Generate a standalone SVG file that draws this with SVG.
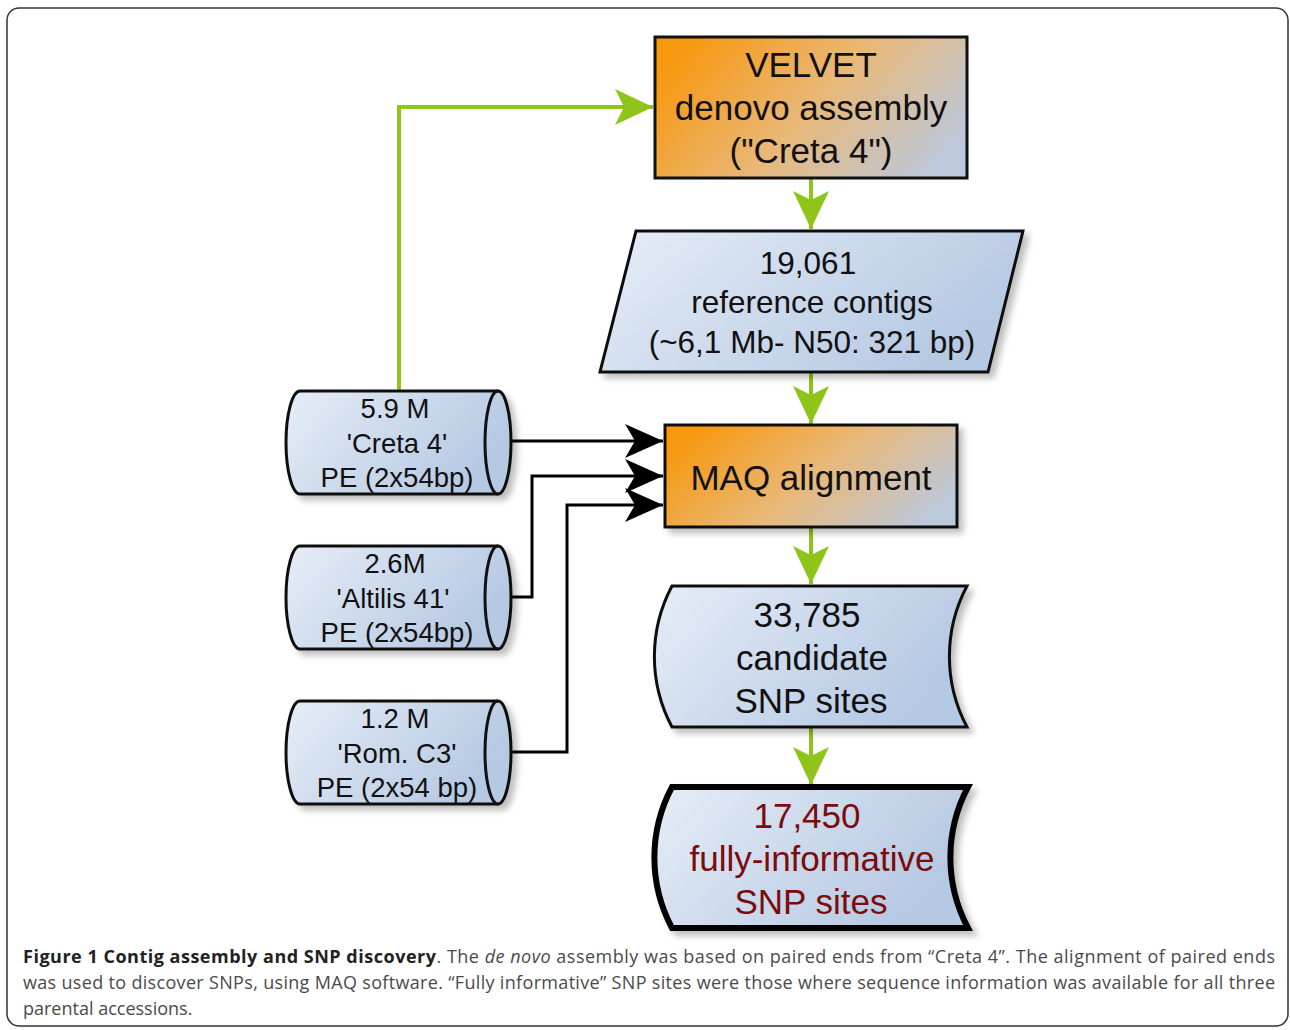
<svg xmlns="http://www.w3.org/2000/svg" width="1290" height="1030" viewBox="0 0 1290 1030">
<defs>
  <linearGradient id="gOrange" x1="0" y1="0.3" x2="1" y2="0.7">
    <stop offset="0" stop-color="#f7980f"/>
    <stop offset="0.5" stop-color="#e9b878"/>
    <stop offset="1" stop-color="#bcc8dc"/>
  </linearGradient>
  <linearGradient id="gBlue" x1="0" y1="0" x2="1" y2="0.4">
    <stop offset="0" stop-color="#e6edf7"/>
    <stop offset="1" stop-color="#b6c9e3"/>
  </linearGradient>
  <filter id="shadow" x="-10%" y="-10%" width="130%" height="130%">
    <feDropShadow dx="5" dy="5" stdDeviation="3" flood-color="#000" flood-opacity="0.25"/>
  </filter>
  <marker id="ahGreen" markerUnits="userSpaceOnUse" markerWidth="40" markerHeight="36" refX="38" refY="18" orient="auto" viewBox="0 0 40 36">
    <path d="M0,0 L38,18 L0,36 L9,18 Z" fill="#8fc41a"/>
  </marker>
  <marker id="ahBlack" markerUnits="userSpaceOnUse" markerWidth="40" markerHeight="34" refX="38" refY="17" orient="auto" viewBox="0 0 40 34">
    <path d="M0,0 L38,17 L0,34 L10,17 Z" fill="#000"/>
  </marker>
</defs>
<style>
  .node { stroke:#111; stroke-width:3; }
  .lbl { font-family:"Liberation Sans", Arial, sans-serif; fill:#111; text-anchor:middle; }
  .big { font-size:35px; }
  .mid { font-size:31.5px; }
  .sm { font-size:27.5px; }
  .green { fill:none; stroke:#8fc41a; stroke-width:4; }
  .black { fill:none; stroke:#000; stroke-width:3; }
  .cap { font-family:"Open Sans", "Liberation Sans", sans-serif; font-size:18px; fill:#4a4a4a; }
</style>
<rect x="7" y="8" width="1281" height="1018" rx="12" fill="#fff" stroke="#333" stroke-width="1.5"/>

<g id="connectors">
  <path class="green" d="M399,391 L399,107 L653,107" marker-end="url(#ahGreen)"/>
  <path class="green" d="M811,178 L811,229" marker-end="url(#ahGreen)"/>
  <path class="green" d="M811,372 L811,424" marker-end="url(#ahGreen)"/>
  <path class="green" d="M811,527 L811,584" marker-end="url(#ahGreen)"/>
  <path class="green" d="M811,727 L811,785" marker-end="url(#ahGreen)"/>
  <path class="black" d="M511,441 L663,441" marker-end="url(#ahBlack)"/>
  <path class="black" d="M511,597 L532,597 L532,476 L663,476" marker-end="url(#ahBlack)"/>
  <path class="black" d="M511,752 L567,752 L567,505 L663,505" marker-end="url(#ahBlack)"/>
</g>

<g id="velvet">
  <rect class="node" x="655" y="37" width="312" height="141" fill="url(#gOrange)"/>
  <text class="lbl big" x="811" y="77">VELVET</text>
  <text class="lbl big" x="811" y="120">denovo assembly</text>
  <text class="lbl big" x="811" y="163">("Creta 4")</text>
</g>

<g id="contigs">
  <path class="node" d="M636,231 L1023,231 L988,372 L600,372 Z" fill="url(#gBlue)" filter="url(#shadow)"/>
  <text class="lbl mid" x="808" y="274">19,061</text>
  <text class="lbl mid" x="812" y="313">reference contigs</text>
  <text class="lbl mid" x="812" y="353">(~6,1 Mb- N50: 321 bp)</text>
</g>

<g id="maq">
  <rect class="node" x="665" y="425" width="292" height="102" fill="url(#gOrange)" filter="url(#shadow)"/>
  <text class="lbl big" x="811" y="490">MAQ alignment</text>
</g>

<g id="candidate">
  <path class="node" d="M672,586 L967,586 A150,150 0 0 0 967,727 L672,727 A150,150 0 0 1 672,586 Z" fill="url(#gBlue)" filter="url(#shadow)"/>
  <text class="lbl big" x="807" y="627">33,785</text>
  <text class="lbl big" x="812" y="670">candidate</text>
  <text class="lbl big" x="811" y="713">SNP sites</text>
</g>

<g id="final">
  <path d="M672,787 L968,787 A150,150 0 0 0 968,928 L672,928 A150,150 0 0 1 672,787 Z" fill="url(#gBlue)" stroke="#000" stroke-width="6" filter="url(#shadow)"/>
  <text class="lbl big" x="807" y="828" style="fill:#7a0c0c">17,450</text>
  <text class="lbl big" x="812" y="871" style="fill:#7a0c0c">fully-informative</text>
  <text class="lbl big" x="811" y="914" style="fill:#7a0c0c">SNP sites</text>
</g>

<g id="creta4">
  <path class="node" d="M300,391 L498,391 A13,51.5 0 0 1 498,494 L300,494 A14,51.5 0 0 1 300,391 Z" fill="url(#gBlue)" filter="url(#shadow)"/>
  <path class="node" d="M498,391 A13,51.5 0 0 0 498,494" fill="none"/>
  <text class="lbl sm" x="395" y="418">5.9 M</text>
  <text class="lbl sm" x="397" y="453">'Creta 4'</text>
  <text class="lbl sm" x="397" y="487">PE (2x54bp)</text>
</g>

<g id="altilis">
  <path class="node" d="M300,546 L498,546 A13,51.5 0 0 1 498,649 L300,649 A14,51.5 0 0 1 300,546 Z" fill="url(#gBlue)" filter="url(#shadow)"/>
  <path class="node" d="M498,546 A13,51.5 0 0 0 498,649" fill="none"/>
  <text class="lbl sm" x="395" y="573">2.6M</text>
  <text class="lbl sm" x="393" y="608">'Altilis 41'</text>
  <text class="lbl sm" x="397" y="642">PE (2x54bp)</text>
</g>

<g id="romc3">
  <path class="node" d="M300,701 L498,701 A13,51.5 0 0 1 498,804 L300,804 A14,51.5 0 0 1 300,701 Z" fill="url(#gBlue)" filter="url(#shadow)"/>
  <path class="node" d="M498,701 A13,51.5 0 0 0 498,804" fill="none"/>
  <text class="lbl sm" x="395" y="728">1.2 M</text>
  <text class="lbl sm" x="397" y="763">'Rom. C3'</text>
  <text class="lbl sm" x="397" y="797">PE (2x54 bp)</text>
</g>

<g id="caption">
  <text class="cap" x="23" y="963" textLength="1252" lengthAdjust="spacing"><tspan font-weight="bold" fill="#222">Figure 1 Contig assembly and SNP discovery</tspan>. The <tspan font-style="italic">de novo</tspan> assembly was based on paired ends from “Creta 4”. The alignment of paired ends</text>
  <text class="cap" x="23" y="989" textLength="1252" lengthAdjust="spacing">was used to discover SNPs, using MAQ software. “Fully informative” SNP sites were those where sequence information was available for all three</text>
  <text class="cap" x="23" y="1015">parental accessions.</text>
</g>
</svg>
